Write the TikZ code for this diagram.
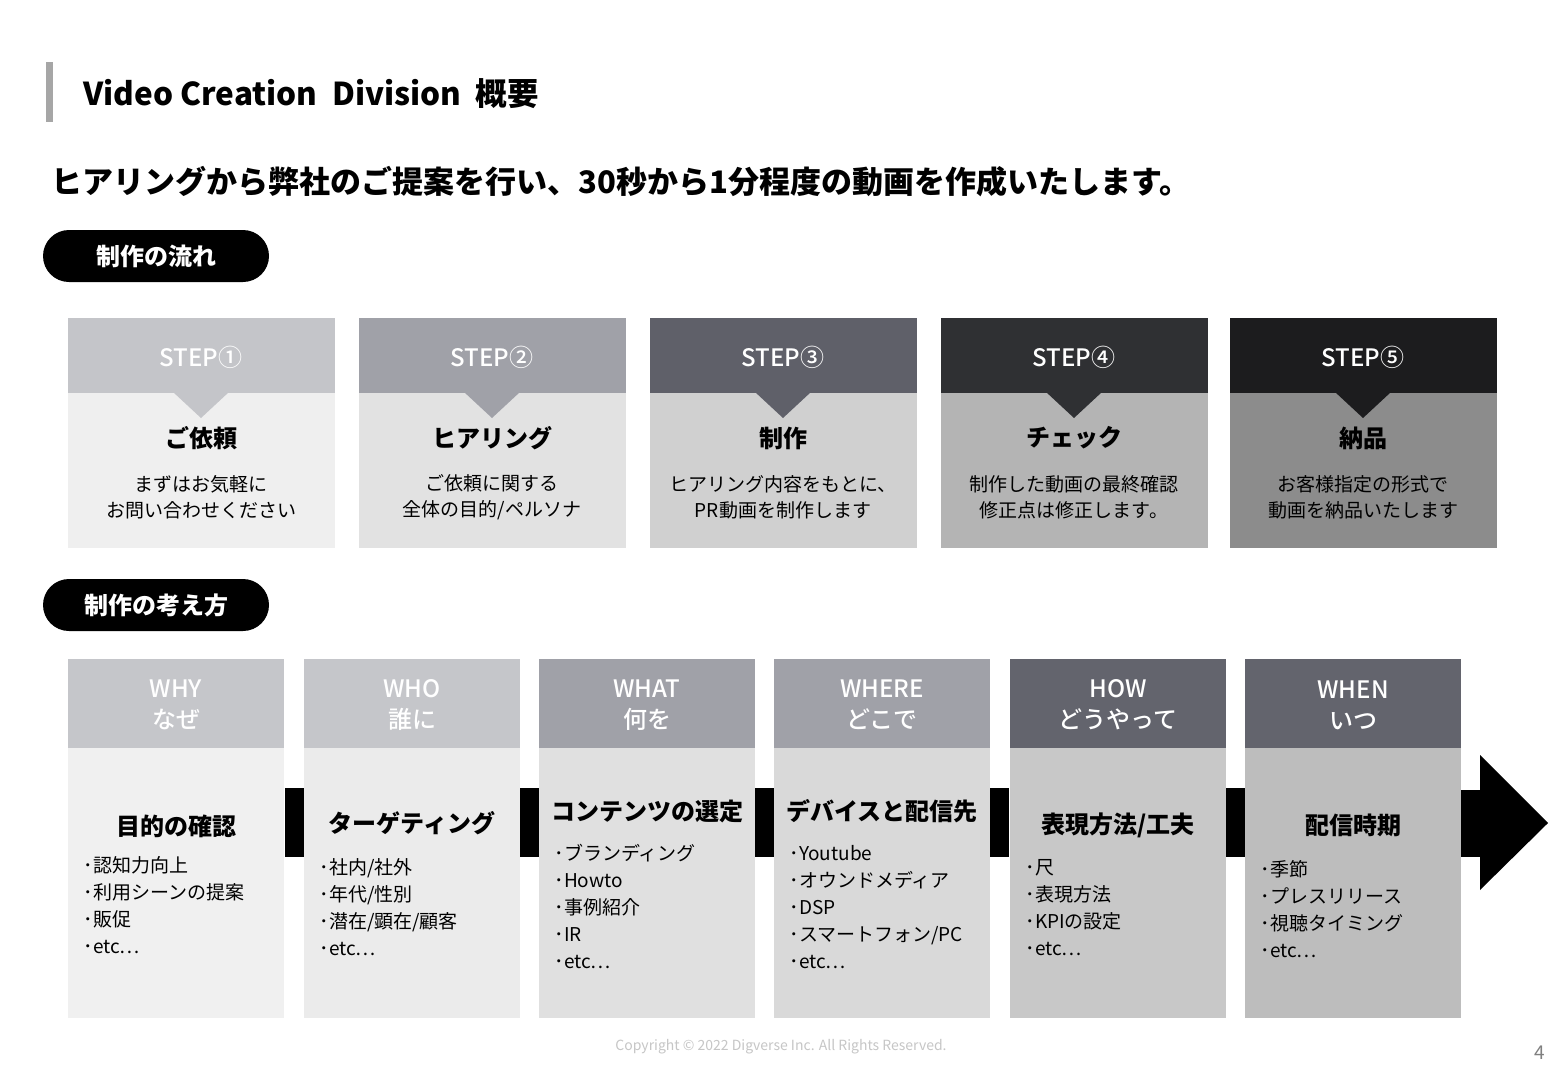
\documentclass[tikz,border=0pt]{standalone}
\usepackage{fontspec}
\setmainfont{Noto Sans CJK JP}
\newfontfamily\medf{Noto Sans CJK JP Medium}
\begin{document}
\begin{tikzpicture}[x=1pt,y=-1pt,
 hd/.style={text=white,font=\medf\fontsize{24}{26}\selectfont},
 bt/.style={font=\bfseries\fontsize{24}{26}\selectfont},
 ds/.style={font=\fontsize{19}{26}\selectfont,align=center},
 it/.style={font=\fontsize{19}{27}\selectfont,align=left,anchor=north west},
 pill/.style={fill=black,rounded corners=26pt,text=white,font=\bfseries\fontsize{24}{25}\selectfont,minimum width=226pt,minimum height=52pt}]
\useasboundingbox (0,0) rectangle (1560,1081);
\fill[white] (0,0) rectangle (1560,1081);
\fill[gray!70] (46,62) rectangle (53,122);
\node[anchor=west,font=\bfseries\fontsize{31.5}{32}\selectfont] (t) at (80,94) {Video Creation\ \ Division\ \ 概要};
\node[anchor=west,font=\bfseries\fontsize{31}{32}\selectfont] (s) at (48,182) {ヒアリングから弊社のご提案を行い、30秒から1分程度の動画を作成いたします。};
\node[pill] (p1) at (156,256) {制作の流れ};
\node[pill] (p2) at (156,605) {制作の考え方};
% steps
\foreach \x/\hc/\bc/\n/\ti/\da/\db [count=\i] in {
 68/C4C5C9/EFEFEF/①/ご依頼/まずはお気軽に/お問い合わせください,
 359/A0A1A8/E2E2E2/②/ヒアリング/ご依頼に関する/全体の目的{/}ペルソナ,
 650/5F6069/D0D0D0/③/制作/ヒアリング内容をもとに、/PR動画を制作します,
 941/2F3033/B4B4B4/④/チェック/制作した動画の最終確認/修正点は修正します。,
 1230/1C1C1E/8C8C8C/⑤/納品/お客様指定の形式で/動画を納品いたします}{
 \definecolor{hc}{HTML}{\hc}\definecolor{bc}{HTML}{\bc}
 \fill[bc] (\x,393) rectangle +(267,155);
 \fill[hc] (\x,318) rectangle +(267,75);
 \fill[hc] (\x+105,392) -- (\x+161,392) -- (\x+133,418) -- cycle;
 \node[hd] (sh\i) at (\x+133,357) {STEP\n};
 \node[bt] (st\i) at (\x+133,438) {\ti};
 \node[ds] (sd\i) at (\x+133,497) {\da\\\db};
}
% connectors
\foreach \x in {285,520,754,989,1225}{\fill[black] (\x,788) rectangle +(20,69);}
\fill[black] (1460,790) rectangle (1482,857);
\fill[black] (1480,755) -- (1548,823) -- (1480,890) -- cycle;
% columns
\foreach \x/\hc/\bc/\ha/\hb/\ti/\ty/\iy/\items [count=\i] in {
 68/C5C6CA/F0F0F0/WHY/なぜ/目的の確認/826/853/{･認知力向上\\･利用シーンの提案\\･販促\\･etc…},
 304/C5C6CA/EBEBEB/WHO/誰に/ターゲティング/823/855/{･社内{/}社外\\･年代{/}性別\\･潜在{/}顕在{/}顧客\\･etc…},
 539/A0A1A8/E0E0E0/WHAT/何を/コンテンツの選定/811/841/{･ブランディング\\･Howto\\･事例紹介\\･IR\\･etc…},
 774/A0A1A8/D9D9D9/WHERE/どこで/デバイスと配信先/811/842/{･Youtube\\･オウンドメディア\\･DSP\\･スマートフォン{/}PC\\･etc…},
 1010/63646D/C8C8C8/HOW/どうやって/表現方法{/}工夫/825/856/{･尺\\･表現方法\\･KPIの設定\\･etc…},
 1245/63646D/BDBDBD/WHEN/いつ/配信時期/825/857/{･季節\\･プレスリリース\\･視聴タイミング\\･etc…}}{
 \definecolor{hc}{HTML}{\hc}\definecolor{bc}{HTML}{\bc}
 \fill[bc] (\x,748) rectangle +(216,270);
 \fill[hc] (\x,659) rectangle +(216,89);
 \node[hd,align=center,font=\medf\fontsize{24}{31}\selectfont] (ch\i) at (\x+108,705) {\ha\\\hb};
 \node[bt] (ct\i) at (\x+108,\ty) {\ti};
 \node[it] (ci\i) at (\x+12,\iy) {\items};
}
\node[text=gray!45,font=\fontsize{14}{16}\selectfont] (c) at (781,1047) {Copyright © 2022 Digverse Inc. All Rights Reserved.};
\node[text=gray,font=\fontsize{19}{20}\selectfont] (pg) at (1540,1053) {4};
\end{tikzpicture}
\end{document}
